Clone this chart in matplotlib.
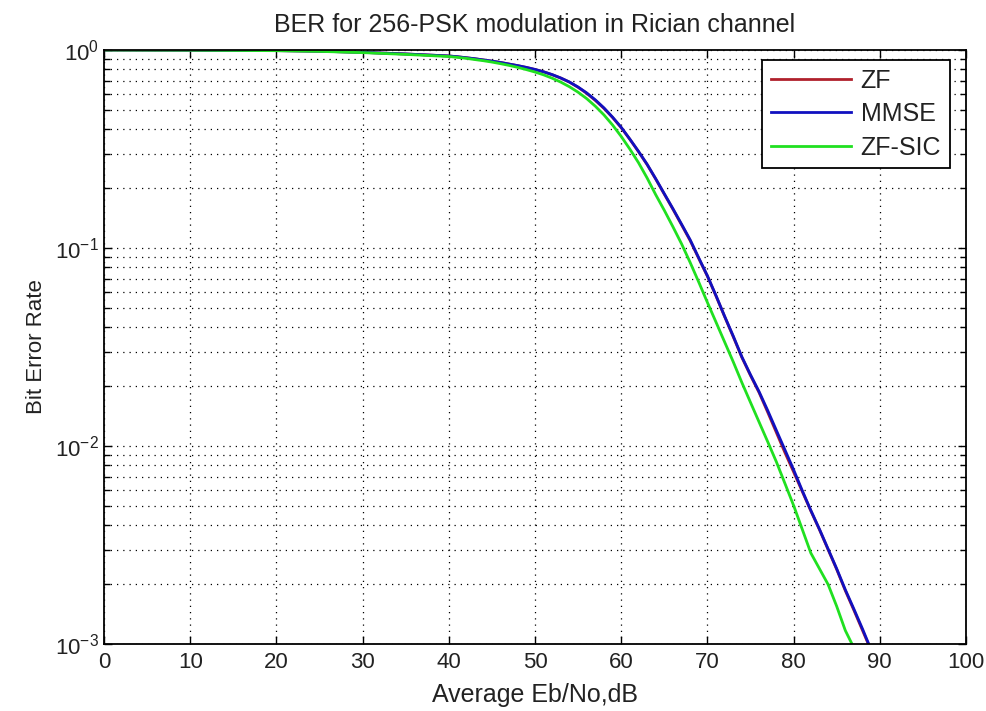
import matplotlib
matplotlib.use('Agg')
import matplotlib.pyplot as plt
from matplotlib.ticker import LogLocator, NullFormatter, MultipleLocator

####################################################################################################
# data (Eb/No in dB, bit error rate)
####################################################################################################
ebno = [0, 5, 10, 15, 20, 25, 30, 35,
        40, 41, 42, 43, 44, 45, 46, 47, 48, 49,
        50, 51, 52, 53, 54, 55, 56, 57, 58, 59,
        60, 61, 62, 63, 64, 65, 66, 67, 68, 69,
        70, 71, 72, 73, 74, 75, 76, 77, 78, 79,
        80, 81, 82, 83, 84, 85, 86, 87, 88, 89]

ber_mmse = [1.000, 0.999, 0.998, 0.995, 0.993, 0.986, 0.973, 0.955,
            0.933, 0.925, 0.914, 0.904, 0.891, 0.879, 0.865, 0.849, 0.834, 0.817,
            0.798, 0.776, 0.751, 0.722, 0.689, 0.650, 0.607, 0.560, 0.510, 0.458,
            0.407, 0.355, 0.308, 0.265, 0.224, 0.188, 0.158, 0.132, 0.110, 0.0891,
            0.0724, 0.0575, 0.0452, 0.0359, 0.0282, 0.0229, 0.0188, 0.0151, 0.0120, 0.00955,
            0.00759, 0.00596, 0.00473, 0.00380, 0.00302, 0.00240, 0.00188, 0.00150, 0.00119, 0.000933]

ber_zf = [1.000, 0.999, 0.998, 0.995, 0.993, 0.986, 0.973, 0.955,
          0.933, 0.924, 0.914, 0.903, 0.891, 0.878, 0.865, 0.849, 0.833, 0.816,
          0.797, 0.776, 0.750, 0.721, 0.688, 0.648, 0.604, 0.556, 0.507, 0.456,
          0.405, 0.354, 0.307, 0.264, 0.223, 0.187, 0.157, 0.131, 0.109, 0.0885,
          0.0720, 0.0572, 0.0450, 0.0356, 0.0280, 0.0227, 0.0186, 0.0148, 0.0117, 0.00925,
          0.00740, 0.00590, 0.00470, 0.00378, 0.00300, 0.00238, 0.00186, 0.00148, 0.00117, 0.000925]

ebno_sic = ebno[:-2]
ber_zfsic = [1.000, 0.999, 0.998, 0.995, 0.992, 0.984, 0.970, 0.950,
             0.927, 0.918, 0.908, 0.895, 0.883, 0.869, 0.853, 0.836, 0.817, 0.796,
             0.774, 0.749, 0.720, 0.688, 0.652, 0.612, 0.568, 0.520, 0.470, 0.418,
             0.366, 0.316, 0.270, 0.226, 0.186, 0.155, 0.128, 0.105, 0.0845, 0.0672,
             0.0531, 0.0422, 0.0335, 0.0266, 0.0209, 0.0166, 0.0132, 0.0105, 0.00832, 0.00646,
             0.00501, 0.00380, 0.00288, 0.00240, 0.00200, 0.00155, 0.00117, 0.000955]

####################################################################################################
# plot
####################################################################################################
plt.rcParams['font.family'] = ['Liberation Sans', 'DejaVu Sans']
plt.rcParams['mathtext.default'] = 'regular'

fig = plt.figure(figsize=(9.87, 7.11), dpi=100)
ax = fig.add_axes([104 / 987, 1 - 644 / 711, 862 / 987, 594 / 711])

ax.semilogy(ebno, ber_zf, color='#b0202c', lw=2.0, label='ZF')
ax.semilogy(ebno, ber_mmse, color='#1010c0', lw=2.0, label='MMSE')
ax.semilogy(ebno_sic, ber_zfsic, color='#20e020', lw=2.0, label='ZF-SIC')

ax.set_xlim(0, 100)
ax.set_ylim(1e-3, 1)
ax.xaxis.set_major_locator(MultipleLocator(10))
ax.yaxis.set_major_locator(LogLocator(base=10))
ax.yaxis.set_minor_locator(LogLocator(base=10, subs=range(2, 10)))
ax.yaxis.set_minor_formatter(NullFormatter())

dots = (0, (1, 4))
ax.grid(True, which='major', axis='both', color='black', linestyle=dots, linewidth=0.9)
ax.grid(True, which='minor', axis='y', color='black', linestyle=dots, linewidth=0.9)

ax.tick_params(which='both', direction='in', top=True, right=True, labelsize=16,
               labelcolor='#222222')
ax.tick_params(axis='x', pad=6)
ax.tick_params(which='major', length=6, width=1.0)
ax.tick_params(which='minor', length=4, width=1.0)
for s in ax.spines.values():
    s.set_linewidth(1.3)

ax.set_xlabel('Average Eb/No,dB', fontsize=18, labelpad=7, color='#222222')
ax.set_ylabel('Bit Error Rate', fontsize=16, labelpad=6, color='#222222')
ax.set_title('BER for 256-PSK modulation in Rician channel', fontsize=18, pad=13,
             color='#222222')

leg = ax.legend(loc='upper right', bbox_to_anchor=(0.9814, 0.9832), borderaxespad=0,
                fontsize=18, fancybox=False, framealpha=1, edgecolor='black',
                handlelength=3.2, handletextpad=0.4, labelspacing=0.38, borderpad=0.35)
leg.get_frame().set_linewidth(1.3)
for t in leg.get_texts():
    t.set_color('#222222')

fig.savefig('out.png', dpi=100)
plt.close()
